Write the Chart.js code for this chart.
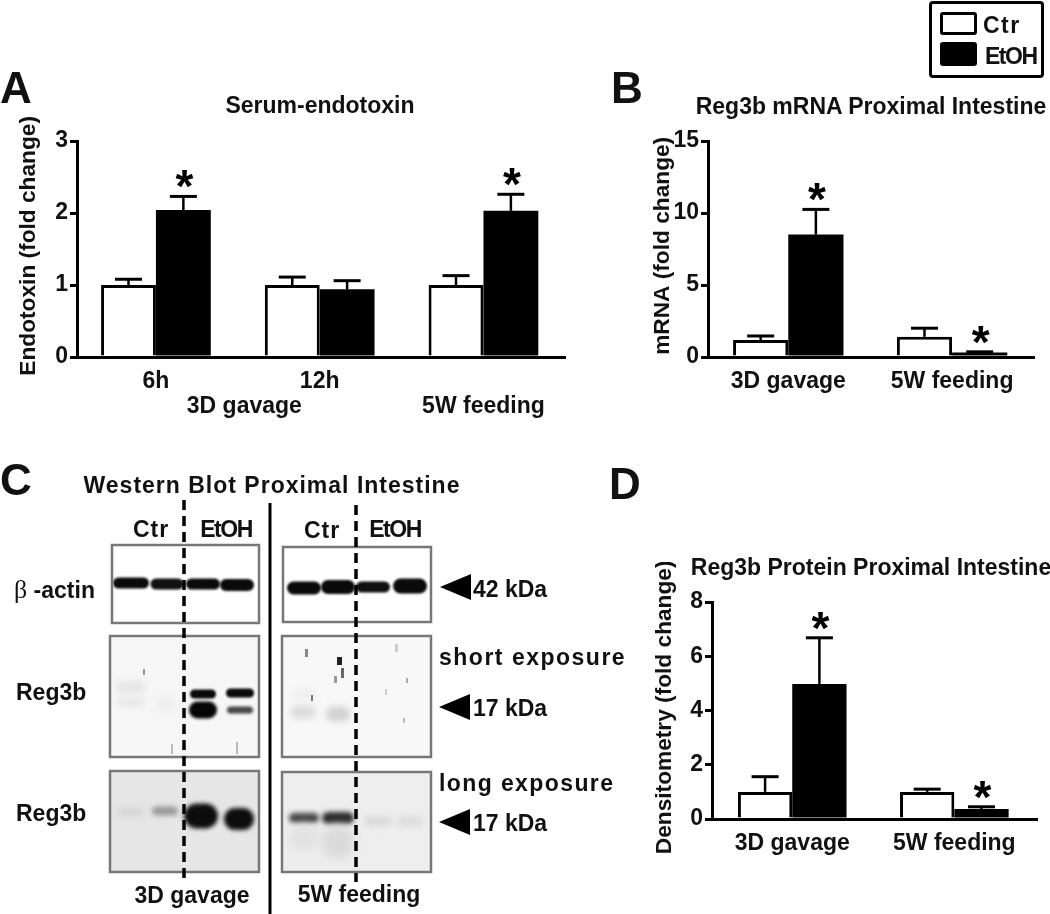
<!DOCTYPE html>
<html>
<head>
<meta charset="utf-8">
<title>Reg3b figure</title>
<script src="https://cdn.jsdelivr.net/npm/chart.js@4"></script>
<style>
  html, body { margin: 0; padding: 0; background: #fff; }
  #page { position: relative; width: 1050px; height: 914px; overflow: hidden; filter: blur(0.45px);
          font: bold 23px "Liberation Sans", Arial, sans-serif; color: #111; }
  #page canvas { position: absolute; }
  .t { position: absolute; white-space: nowrap; transform: translate(-50%, -50%); }
  .l { position: absolute; white-space: nowrap; transform: translateY(-50%); }
  .letter { font-size: 44px; }
  .sw { position: absolute; box-sizing: border-box; border: 3px solid #000; border-radius: 3px; }
  .arrow { position: absolute; width: 0; height: 0; border-style: solid; border-width: 13px 31px 13px 0;
           border-color: transparent #000 transparent transparent; }
</style>
</head>
<body>
<div id="page">
  <canvas id="blot" width="480" height="420" style="left:0;top:494px"></canvas>
  <canvas id="chartA"></canvas>
  <canvas id="chartB"></canvas>
  <canvas id="chartD"></canvas>

  <div class="l letter" style="left:0;top:88px">A</div>
  <div class="l letter" style="left:611px;top:88px">B</div>
  <div class="l letter" style="left:0;top:480px">C</div>
  <div class="l letter" style="left:609px;top:484px">D</div>

  <div class="t" style="left:320px;top:105px">Serum-endotoxin</div>
  <div class="t" style="left:871px;top:106px">Reg3b mRNA Proximal Intestine</div>
  <div class="t" style="left:871px;top:567px">Reg3b Protein Proximal Intestine</div>
  <div class="t" style="left:272px;top:485px;letter-spacing:1px">Western Blot Proximal Intestine</div>

  <!-- legend -->
  <div style="position:absolute;left:929px;top:1px;width:115px;height:77px;box-sizing:border-box;border:3.5px solid #000;border-radius:4px"></div>
  <div class="sw" style="left:940px;top:12px;width:37px;height:23px;background:#fff"></div>
  <div class="sw" style="left:940px;top:42px;width:37px;height:24px;background:#000"></div>
  <div class="l" style="left:983px;top:25px;letter-spacing:1.5px">Ctr</div>
  <div class="l" style="left:985px;top:56px;letter-spacing:-1.5px">EtOH</div>

  <!-- panel C text -->
  <div class="t" style="left:151px;top:529px;letter-spacing:1px">Ctr</div>
  <div class="t" style="left:226px;top:529px;letter-spacing:-1.5px">EtOH</div>
  <div class="t" style="left:322px;top:530px;letter-spacing:1px">Ctr</div>
  <div class="t" style="left:395px;top:529px;letter-spacing:-1.5px">EtOH</div>
  <div class="l" style="left:14px;top:590px"><span style="font-family:'Liberation Serif';font-weight:normal;font-size:26px">&beta;</span> -actin</div>
  <div class="l" style="left:16px;top:692px">Reg3b</div>
  <div class="l" style="left:16px;top:813px">Reg3b</div>
  <div class="arrow" style="left:440px;top:574px"></div>
  <div class="arrow" style="left:439px;top:694px"></div>
  <div class="arrow" style="left:439px;top:809px"></div>
  <div class="l" style="left:473px;top:589px">42 kDa</div>
  <div class="l" style="left:473px;top:708px">17 kDa</div>
  <div class="l" style="left:473px;top:823px">17 kDa</div>
  <div class="l" style="left:439px;top:657px;letter-spacing:1.5px">short exposure</div>
  <div class="l" style="left:439px;top:783px;letter-spacing:1.4px">long exposure</div>
  <div class="t" style="left:192px;top:895px">3D gavage</div>
  <div class="t" style="left:359px;top:894px">5W feeding</div>
</div>

<script>
// panel A
const timesA = ['6h', '12h', ''];
const groupsA = ['3D gavage', '5W feeding'];
const ctrA = [1.0, 1.0, 1.0];
const ctrErrA = [0.08, 0.11, 0.13];
const etohA = [2.04, 0.94, 2.03];
const etohErrA = [0.19, 0.12, 0.23];
const starsA = [1, 0, 1];

// panel B
const groupsB = ['3D gavage', '5W feeding'];
const ctrB = [1.18, 1.4];
const ctrErrB = [0.28, 0.6];
const etohB = [8.5, 0.32];
const etohErrB = [1.75, 0.04];
const starsB = [1, 1];

// panel D
const groupsD = ['3D gavage', '5W feeding'];
const ctrD = [1.0, 1.0];
const ctrErrD = [0.56, 0.1];
const etohD = [4.98, 0.37];
const etohErrD = [1.7, 0.08];
const starsD = [1, 1];

const FONT = 'bold 23px "Liberation Sans", Arial, sans-serif';

const errorBars = {
  id: 'errorBars',
  afterDatasetsDraw(chart) {
    const { ctx, scales: { y } } = chart;
    ctx.save();
    ctx.strokeStyle = '#000';
    chart.data.datasets.forEach((ds, i) => {
      chart.getDatasetMeta(i).data.forEach((bar, j) => {
        const top = y.getPixelForValue(ds.data[j].y + ds.err[j]);
        ctx.lineWidth = 2.5;
        ctx.beginPath();
        ctx.moveTo(bar.x, bar.y);
        ctx.lineTo(bar.x, top);
        ctx.stroke();
        ctx.lineWidth = 3;
        ctx.beginPath();
        ctx.moveTo(bar.x - 13.5, top);
        ctx.lineTo(bar.x + 13.5, top);
        ctx.stroke();
        if (ds.stars && ds.stars[j]) {
          ctx.font = 'bold 46px "Liberation Sans", Arial, sans-serif';
          ctx.fillStyle = '#000';
          ctx.textAlign = 'center';
          ctx.textBaseline = 'alphabetic';
          const m = ctx.measureText('*');
          const mid = (m.actualBoundingBoxAscent - m.actualBoundingBoxDescent) / 2;
          ctx.fillText('*', bar.x + 1, top - 17 + mid);
        }
      });
    });
    ctx.restore();
  }
};

// second label row under panel A
const groupRow = {
  id: 'groupRow',
  afterDraw(chart, args, opts) {
    if (!opts.labels) return;
    const { ctx, chartArea, scales: { x } } = chart;
    ctx.save();
    ctx.font = FONT;
    ctx.fillStyle = '#111';
    ctx.textAlign = 'center';
    ctx.textBaseline = 'middle';
    opts.labels.forEach((l, i) => {
      ctx.fillText(l, x.getPixelForValue(opts.at[i]), chartArea.bottom + opts.offset);
    });
    ctx.restore();
  }
};

function drawBars(id, p) {
  const cv = document.getElementById(id);
  const padTop = 40, xHeight = p.xHeight;
  const yWidth = p.left - p.titleX + 14;
  cv.style.left = p.titleX - 14 + 'px';
  cv.style.top = p.top - padTop + 'px';
  cv.width = p.right - p.left + yWidth + 6;
  cv.height = p.bottom - p.top + padTop + xHeight;

  const toPoints = vals => vals.map((v, i) => ({ x: i, y: v }));
  return new Chart(cv, {
    type: 'bar',
    data: {
      datasets: [
        { label: 'Ctr', data: toPoints(p.ctr), err: p.ctrErr, backgroundColor: '#fff', borderColor: '#000', borderWidth: 3 },
        { label: 'EtOH', data: toPoints(p.etoh), err: p.etohErr, stars: p.stars, backgroundColor: '#000', borderWidth: 0 }
      ]
    },
    options: {
      responsive: false,
      animation: false,
      layout: { padding: { top: padTop, right: 6, left: 0, bottom: 0 } },
      datasets: { bar: { categoryPercentage: p.group, barPercentage: 1 } },
      plugins: {
        legend: { display: false },
        tooltip: { enabled: false },
        groupRow: p.row || {}
      },
      scales: {
        x: {
          type: 'linear',
          offset: false,
          min: p.xMin,
          max: p.xMax,
          afterBuildTicks: s => { s.ticks = p.labels.map((l, i) => ({ value: i })); },
          afterFit: s => { s.height = xHeight; },
          grid: { display: false, offset: false },
          border: { color: '#000', width: 3 },
          ticks: {
            callback: (v, i) => p.labels[i],
            color: '#111',
            font: { family: '"Liberation Sans"', weight: 'bold', size: 23 },
            padding: 3,
            autoSkip: false,
            maxRotation: 0
          }
        },
        y: {
          min: 0,
          max: p.yMax,
          afterFit: s => { s.width = yWidth; },
          grid: { drawOnChartArea: false, color: '#000', lineWidth: 3, tickLength: 7 },
          border: { color: '#000', width: 3 },
          ticks: {
            stepSize: p.yStep,
            color: '#111',
            font: { family: '"Liberation Sans"', weight: 'bold', size: 23 },
            padding: 2
          },
          title: {
            display: true,
            // leading space nudges the rotated title up a little, like the original
            text: ' ' + p.yTitle,
            color: '#111',
            font: { family: '"Liberation Sans"', weight: 'bold', size: 22.7 },
            padding: 0
          }
        }
      }
    },
    plugins: [errorBars, groupRow]
  });
}

drawBars('chartA', {
  labels: timesA, ctr: ctrA, ctrErr: ctrErrA, etoh: etohA, etohErr: etohErrA, stars: starsA,
  yMax: 3, yStep: 1, yTitle: 'Endotoxin (fold change)',
  left: 77, right: 565, top: 141, bottom: 357, titleX: 29, xHeight: 66,
  xMin: -0.482, xMax: 2.498, group: 0.67,
  row: { labels: groupsA, at: [0.54, 2], offset: 50 }
});
drawBars('chartB', {
  labels: groupsB, ctr: ctrB, ctrErr: ctrErrB, etoh: etohB, etohErr: etohErrB, stars: starsB,
  yMax: 15, yStep: 5, yTitle: 'mRNA (fold change)',
  left: 708, right: 1034, top: 141, bottom: 357, titleX: 663, xHeight: 44,
  xMin: -0.49, xMax: 1.5, group: 0.674
});
drawBars('chartD', {
  labels: groupsD, ctr: ctrD, ctrErr: ctrErrD, etoh: etohD, etohErr: etohErrD, stars: starsD,
  yMax: 8, yStep: 2, yTitle: 'Densitometry (fold change)',
  left: 712, right: 1037, top: 602, bottom: 819, titleX: 665, xHeight: 44,
  xMin: -0.495, xMax: 1.51, group: 0.67
});

// western blot panel: membrane boxes, bands [x, y, w, h, grey, blur], specks
const blotBoxes = [
  [112, 545, 147, 78, '#fff'], [283, 547, 148, 75, '#fff'],
  [110, 636, 149, 121, '#f6f6f6'], [282, 636, 149, 121, '#f8f8f8'],
  [110, 771, 149, 101, '#e6e6e6'], [282, 772, 149, 100, '#eeeeee']
];
const blotBands = [
  [131, 583, 36, 11, '#0a0a0a', 1.2], [167, 584, 33, 11, '#111', 1.2], [203, 584, 34, 11, '#0a0a0a', 1.2], [237, 585, 34, 12, '#0a0a0a', 1.2],
  [304, 588, 34, 13, '#0a0a0a', 1.2], [338, 587, 34, 14, '#0a0a0a', 1.2], [373, 587, 34, 11, '#111', 1.2], [410, 586, 34, 15, '#0a0a0a', 1.2],
  [130, 687, 30, 12, '#e6e6e6', 3], [131, 702, 28, 10, '#e8e8e8', 3], [165, 704, 20, 14, '#eeeeee', 3],
  [203, 694, 26, 9, '#0a0a0a', 1.2], [203, 710, 28, 17, '#050505', 1.5], [240, 693, 28, 9, '#0a0a0a', 1.2], [240, 710, 26, 7, '#444', 1.8],
  [303, 712, 26, 13, '#dcdcdc', 3], [338, 714, 24, 15, '#d2d2d2', 3], [305, 695, 24, 12, '#eeeeee', 3],
  [131, 812, 26, 8, '#d4d4d4', 3], [165, 811, 26, 9, '#999', 2.5], [201, 816, 34, 25, '#0c0c0c', 2], [239, 819, 30, 22, '#0c0c0c', 2],
  [304, 818, 30, 10, '#444', 2.5], [338, 818, 32, 12, '#2a2a2a', 2.5], [304, 838, 30, 26, '#e2e2e2', 5], [338, 842, 32, 34, '#dadada', 5],
  [378, 821, 28, 9, '#d8d8d8', 3], [410, 821, 26, 10, '#dcdcdc', 3]
];
const blotSpecks = [
  [143, 669, 2, 6, '#999'], [171, 744, 2, 10, '#bbb'], [236, 742, 2, 12, '#bbb'], [305, 649, 3, 8, '#888'],
  [337, 657, 5, 8, '#222'], [341, 668, 3, 10, '#666'], [334, 676, 3, 7, '#999'], [311, 695, 2, 6, '#777'],
  [395, 644, 3, 8, '#ccc'], [406, 678, 2, 5, '#aaa'], [385, 689, 2, 6, '#ccc'], [403, 718, 2, 5, '#bbb']
];

const blot = document.getElementById('blot').getContext('2d');
blot.translate(0, -494);
blotBoxes.forEach(([x, y, w, h, bg]) => {
  blot.fillStyle = bg;
  blot.fillRect(x, y, w, h);
});
blotBands.forEach(([x, y, w, h, c, b]) => {
  blot.filter = `blur(${b}px)`;
  blot.fillStyle = c;
  blot.beginPath();
  blot.roundRect(x - w / 2, y - h / 2, w, h, h / 2);
  blot.fill();
});
blot.filter = 'blur(0.6px)';
blotSpecks.forEach(([x, y, w, h, c]) => {
  blot.fillStyle = c;
  blot.fillRect(x, y, w, h);
});
blot.filter = 'none';
blot.strokeStyle = '#777';
blot.lineWidth = 2.5;
blotBoxes.forEach(([x, y, w, h]) => blot.strokeRect(x, y, w, h));

blot.strokeStyle = '#000';
blot.lineWidth = 3;
blot.beginPath();
blot.moveTo(270, 503);
blot.lineTo(270, 914);
blot.stroke();
blot.lineWidth = 3.5;
blot.setLineDash([10, 6]);
[[184, 500, 878], [356, 505, 882]].forEach(([x, y0, y1]) => {
  blot.beginPath();
  blot.moveTo(x, y0);
  blot.lineTo(x, y1);
  blot.stroke();
});
</script>
</body>
</html>
